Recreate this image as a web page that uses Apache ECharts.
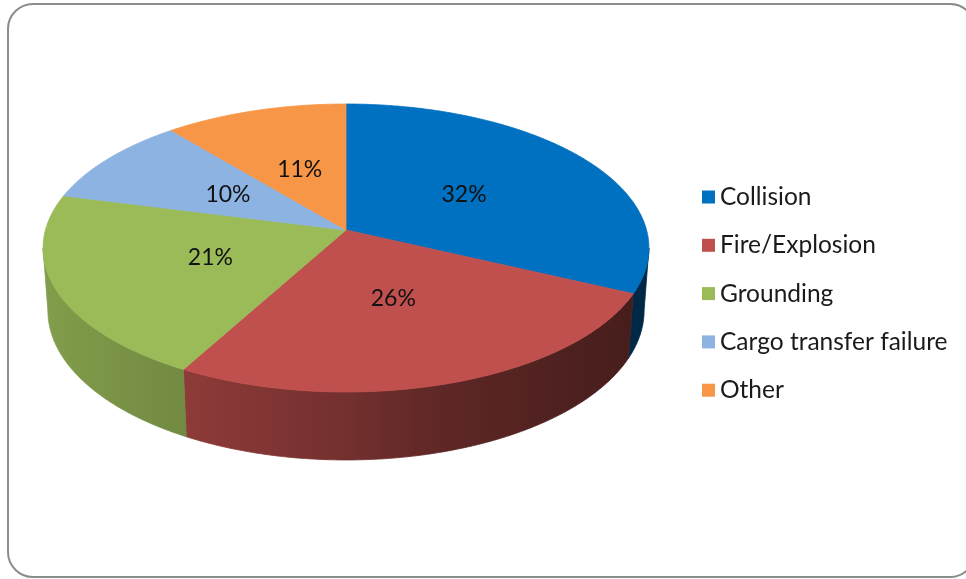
<!DOCTYPE html>
<html>
<head>
<meta charset="utf-8">
<script src="https://cdn.jsdelivr.net/npm/echarts@6/dist/echarts.min.js"></script>
<style>
  html, body { margin: 0; padding: 0; background: #ffffff; overflow: hidden; }
  #chart { width: 966px; height: 579px; }
</style>
</head>
<body>
<div id="chart"></div>
<script>
// Share of incidents by cause (percent)
const categories = ['Collision', 'Fire/Explosion', 'Grounding', 'Cargo transfer failure', 'Other'];
const shares = [32, 26, 21, 10, 11];
const sliceColors = ['#0070C0', '#C0504D', '#9BBB59', '#8DB3E2', '#F79646'];

// Perspective camera for the tilted pie (unit radius cylinder)
const VIEW = { cx: 346, cy: 230, sinA: 0.4716, cosA: 0.8818, dist: 7.054, focal: 2120, thick: 0.2383 };
const LABEL_RADIUS = 0.48;
const STEP = Math.PI / 360;

function project(r, theta, z) {
  const x = r * Math.sin(theta);
  const y = -r * Math.cos(theta);           // +y points toward the viewer
  const dep = VIEW.dist - y * VIEW.cosA - z * VIEW.sinA;
  return [VIEW.cx + VIEW.focal * x / dep, VIEW.cy + VIEW.focal * (y * VIEW.sinA - z * VIEW.cosA) / dep];
}

function arc(a0, a1, z) {
  const pts = [];
  const n = Math.max(2, Math.ceil(Math.abs(a1 - a0) / STEP));
  for (let k = 0; k <= n; k++) pts.push(project(1, a0 + (a1 - a0) * k / n, z));
  return pts;
}

function shade(hex, f) {
  const v = parseInt(hex.slice(1), 16);
  const r = Math.round(((v >> 16) & 255) * f);
  const g = Math.round(((v >> 8) & 255) * f);
  const b = Math.round((v & 255) * f);
  return 'rgb(' + r + ',' + g + ',' + b + ')';
}

const total = shares.reduce((s, v) => s + v, 0);
const startFrac = shares.map((_, i) => shares.slice(0, i).reduce((s, v) => s + v, 0) / total);

// silhouette angles of the side wall
const silR = Math.acos(-VIEW.cosA / VIEW.dist);
const silL = 2 * Math.PI - silR;
const leftX = project(1, silL, 0)[0];
const rightX = project(1, silR, 0)[0];
const wallShade = [[0, 0.84], [0.23, 0.74], [0.5, 0.6], [0.64, 0.5], [0.88, 0.4], [1, 0.36]];

function makeRender(i) {
  return function (params, api) {
    const a0 = startFrac[i] * 2 * Math.PI;
    const a1 = a0 + api.value(0) / total * 2 * Math.PI;
    const color = sliceColors[i];
    const children = [];

    // outer wall (front part only)
    const w0 = Math.max(a0, silR), w1 = Math.min(a1, silL);
    if (w1 > w0) {
      const top = arc(w0, w1, 0);
      const bottom = arc(w0, w1, -VIEW.thick).reverse();
      const grad = new echarts.graphic.LinearGradient(leftX, 0, rightX, 0,
        wallShade.map(s => ({ offset: s[0], color: shade(color, s[1]) })), true);
      children.push({
        type: 'polygon', z2: 1,
        shape: { points: top.concat(bottom) },
        style: { fill: grad, stroke: grad, lineWidth: 0.8 }
      });
    }

    // top face
    const face = [project(0, 0, 0)].concat(arc(a0, a1, 0));
    children.push({
      type: 'polygon', z2: 5,
      shape: { points: face },
      style: { fill: color, stroke: color, lineWidth: 0.8, lineJoin: 'round' }
    });

    // percentage label
    const mid = (a0 + a1) / 2;
    const p = project(LABEL_RADIUS, mid, 0);
    children.push({
      type: 'text', z2: 10,
      x: p[0], y: p[1],
      style: {
        text: Math.round(api.value(0) / total * 100) + '%',
        fill: '#111111',
        font: '23px Lato',
        align: 'center',
        verticalAlign: 'middle'
      }
    });

    return { type: 'group', children: children };
  };
}

const chart = echarts.init(document.getElementById('chart'), null, { renderer: 'canvas' });

chart.setOption({
  animation: false,
  backgroundColor: '#ffffff',
  graphic: [{
    type: 'rect',
    shape: { x: 8, y: 4, width: 967, height: 573, r: 25 },
    style: { fill: 'none', stroke: '#8c8c8c', lineWidth: 2 },
    silent: true
  }],
  legend: {
    orient: 'vertical',
    left: 697,
    top: 179,
    itemWidth: 13,
    itemHeight: 13,
    itemGap: 22.3,
    icon: 'rect',
    selectedMode: false,
    textStyle: { fontFamily: 'Lato', fontSize: 24.5, color: '#1a1a1a', lineHeight: 26, padding: [0, 0, 0, 0] },
    data: categories
  },
  series: categories.map((name, i) => ({
    type: 'custom',
    name: name,
    coordinateSystem: 'none',
    itemStyle: { color: sliceColors[i] },
    renderItem: makeRender(i),
    data: [[shares[i]]]
  }))
});
</script>
</body>
</html>
